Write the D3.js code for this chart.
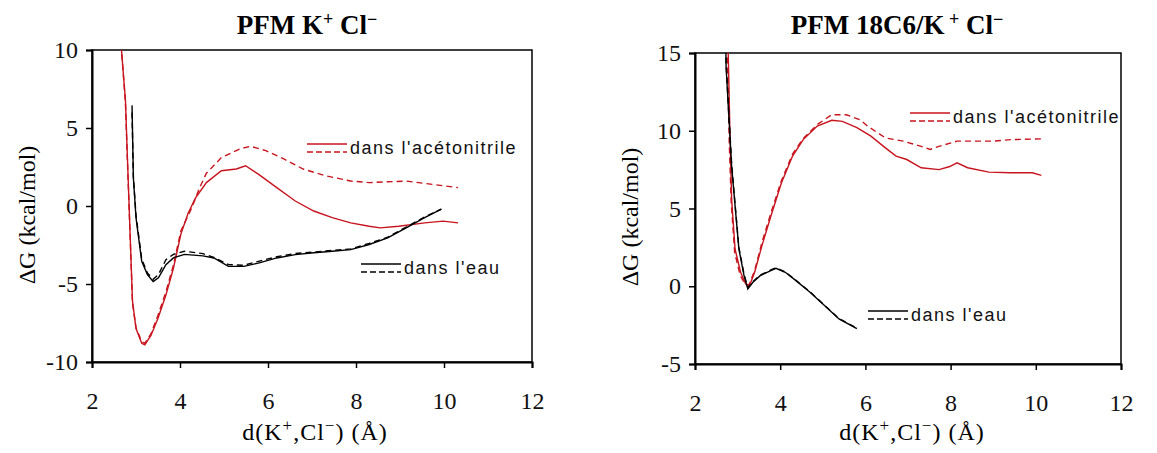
<!DOCTYPE html>
<html lang="fr">

<head>
  <meta charset="UTF-8">
  <title>PFM</title>
  <script src="https://d3js.org/d3.v7.min.js"></script>
  <style>
    body {
      margin: 0;
      background: #fff;
    }

    text {
      font-family: "Liberation Serif", "Times New Roman", serif;
    }

    .legend text {
      font-family: "Liberation Sans", Arial, sans-serif;
    }
  </style>
</head>

<body>
  <svg id="chart" width="1157" height="453"></svg>

  <script>
    // axes
    const xTicks = [2, 4, 6, 8, 10, 12]
    const kclYTicks = [-10, -5, 0, 5, 10]
    const crownYTicks = [-5, 0, 5, 10, 15]

    // PFM K+ Cl-  : [d, dG]
    const kclAcnSolid = [[2.62, 11], [2.67, 10], [2.76, 6.8], [2.8, 3.5], [2.84, 0.3], [2.88, -2.9], [2.92, -6.1], [3.0, -7.85],
      [3.13, -8.8], [3.2, -8.9], [3.34, -8.3], [3.5, -7.2], [3.68, -5.7], [3.85, -4.0], [4.02, -1.8], [4.18, -0.5],
      [4.35, 0.5], [4.6, 1.5], [4.94, 2.26], [5.28, 2.37], [5.49, 2.58], [5.78, 2.04], [6.2, 1.18], [6.62, 0.32],
      [7.04, -0.32], [7.46, -0.75], [7.88, -1.08], [8.3, -1.3], [8.55, -1.4], [8.97, -1.3], [9.56, -1.08],
      [9.98, -0.97], [10.32, -1.08]]
    const kclAcnDash = [[2.62, 11], [2.67, 10], [2.76, 6.6], [2.8, 3.3], [2.84, 0.1], [2.88, -3.0], [2.92, -6.2], [3.0, -7.8],
      [3.13, -8.7], [3.2, -8.8], [3.34, -8.2], [3.5, -7.0], [3.68, -5.5], [3.85, -3.8], [4.02, -1.6], [4.27, -0.1],
      [4.45, 1.2], [4.6, 2.1], [4.94, 3.1], [5.36, 3.66], [5.6, 3.83], [5.95, 3.55], [6.37, 3.0], [6.8, 2.37],
      [7.3, 1.94], [7.88, 1.6], [8.3, 1.5], [8.72, 1.55], [9.14, 1.6], [9.56, 1.45], [9.98, 1.3], [10.32, 1.18]]
    const kclWaterSolid = [[2.91, 6.45], [2.94, 1.83], [3.0, -0.75], [3.13, -3.55], [3.26, -4.4], [3.39, -4.84], [3.51, -4.6],
      [3.68, -3.76], [3.85, -3.33], [4.1, -3.1], [4.52, -3.2], [4.77, -3.33], [5.1, -3.87], [5.45, -3.87],
      [5.78, -3.66], [6.2, -3.33], [6.62, -3.12], [7.04, -3.0], [7.46, -2.9], [7.88, -2.8], [8.3, -2.47],
      [8.72, -2.04], [9.14, -1.4], [9.56, -0.75], [9.94, -0.2]]
    const kclWaterDash = [[2.91, 6.0], [2.94, 1.9], [3.0, -0.6], [3.13, -3.4], [3.26, -4.3], [3.39, -4.7], [3.51, -4.4],
      [3.68, -3.44], [3.85, -3.1], [4.1, -2.9], [4.52, -3.05], [4.77, -3.3], [5.1, -3.75], [5.45, -3.8],
      [5.78, -3.55], [6.2, -3.25], [6.62, -3.05], [7.04, -2.95], [7.46, -2.85], [7.88, -2.75], [8.3, -2.4],
      [8.72, -2.0], [9.14, -1.35], [9.56, -0.7], [9.94, -0.2]]

    // PFM 18C6/K+ Cl-
    const crownAcnSolid = [[2.77, 16], [2.78, 15], [2.82, 9.85], [2.86, 5.6], [2.94, 2.4], [3.07, 0.9], [3.19, 0.15], [3.28, 0.04],
      [3.4, 0.9], [3.57, 2.6], [3.78, 4.5], [4.03, 6.66], [4.29, 8.37], [4.54, 9.43], [4.87, 10.3], [5.21, 10.67],
      [5.46, 10.6], [5.8, 10.2], [6.13, 9.65], [6.47, 8.9], [6.72, 8.37], [6.97, 8.15], [7.31, 7.62], [7.73, 7.5],
      [7.98, 7.7], [8.15, 7.94], [8.4, 7.62], [8.9, 7.34], [9.41, 7.3], [9.92, 7.3], [10.13, 7.13]]
    const crownAcnDash = [[2.75, 16], [2.76, 15], [2.8, 9.6], [2.85, 5.4], [2.93, 2.2], [3.06, 0.7], [3.18, 0.1], [3.27, 0.1],
      [3.4, 1.0], [3.57, 2.8], [3.78, 4.7], [4.03, 6.8], [4.29, 8.5], [4.54, 9.5], [4.87, 10.4], [5.21, 11.03],
      [5.55, 11.03], [5.88, 10.7], [6.05, 10.3], [6.47, 9.54], [6.89, 9.33], [7.31, 9.0], [7.52, 8.8], [7.73, 9.0],
      [8.15, 9.33], [8.57, 9.33], [8.99, 9.33], [9.41, 9.43], [10.13, 9.48]]
    const crownWaterSolid = [[2.72, 16], [2.73, 14.1], [2.86, 7.7], [2.94, 5.2], [3.03, 2.4], [3.15, 0.7], [3.24, -0.17],
      [3.36, 0.26], [3.53, 0.68], [3.78, 1.0], [3.9, 1.15], [4.12, 0.9], [4.37, 0.36], [4.7, -0.38],
      [5.04, -1.24], [5.38, -2.1], [5.8, -2.73]]
    const crownWaterDash = [[2.72, 16], [2.73, 14.3], [2.86, 7.9], [2.94, 5.3], [3.03, 2.5], [3.15, 0.8], [3.24, -0.1],
      [3.36, 0.3], [3.53, 0.72], [3.78, 1.05], [3.9, 1.18], [4.12, 0.92], [4.37, 0.38], [4.7, -0.36],
      [5.04, -1.22], [5.38, -2.08], [5.8, -2.7]]

    const red = '#c8141e'
    const svg = d3.select('#chart')

    function drawPanel(opt) {
      const x = d3.scaleLinear().domain([2, 12]).range([opt.left, opt.right])
      const y = d3.scaleLinear().domain(opt.yDomain).range([opt.bottom, opt.top])
      const g = svg.append('g')

      g.append('clipPath').attr('id', opt.id)
        .append('rect')
        .attr('x', opt.left).attr('y', opt.top)
        .attr('width', opt.right - opt.left).attr('height', opt.bottom - opt.top)

      // cadre
      g.append('rect')
        .attr('x', opt.left).attr('y', opt.top)
        .attr('width', opt.right - opt.left).attr('height', opt.bottom - opt.top)
        .attr('fill', 'none').attr('stroke', '#000').attr('stroke-width', 1.5)

      const xAxis = g.append('g')
        .attr('transform', `translate(0,${opt.bottom})`)
        .call(d3.axisBottom(x).tickValues(xTicks).tickSize(6).tickPadding(24).tickFormat(d => String(d)))
      const yAxis = g.append('g')
        .attr('transform', `translate(${opt.left},0)`)
        .call(d3.axisLeft(y).tickValues(opt.yTicks).tickSize(6).tickPadding(8).tickFormat(d => String(d)))
      for (const a of [xAxis, yAxis]) {
        a.select('.domain').attr('stroke-width', 2)
        a.selectAll('.tick line').attr('stroke-width', 1.5)
        a.selectAll('text').attr('font-size', 24)
          .attr('font-family', '"Liberation Serif", serif').attr('fill', '#111')
      }

      const line = d3.line().x(d => x(d[0])).y(d => y(d[1]))
      const series = [
        [opt.acnDash, red, '6,4'],
        [opt.acnSolid, red, null],
        [opt.waterDash, '#000', '6,4'],
        [opt.waterSolid, '#000', null]
      ]
      series.forEach(s => {
        g.append('path')
          .datum(s[0])
          .attr('clip-path', `url(#${opt.id})`)
          .attr('d', line)
          .attr('fill', 'none')
          .attr('stroke', s[1])
          .attr('stroke-width', 1.4)
          .attr('stroke-dasharray', s[2])
      })

      // titres
      g.append('text')
        .attr('x', opt.titleX).attr('y', 34)
        .attr('text-anchor', 'middle')
        .attr('font-size', 27).attr('font-weight', 'bold')
        .html(opt.title)

      g.append('text')
        .attr('x', opt.xTitleX).attr('y', 440)
        .attr('text-anchor', 'middle')
        .attr('font-size', 24).attr('letter-spacing', 1)
        .html('d(K<tspan dy="-9" font-size="17">+</tspan><tspan dy="9">,Cl</tspan><tspan dy="-9" font-size="17">−</tspan><tspan dy="9">) (Å)</tspan>')

      g.append('text')
        .attr('transform', `translate(${opt.yTitleX},${opt.yTitleY}) rotate(-90)`)
        .attr('text-anchor', 'middle')
        .attr('font-size', 24)
        .text('ΔG (kcal/mol)')

      // légendes
      const leg = g.append('g').attr('class', 'legend')
      opt.legends.forEach(l => {
        leg.append('line').attr('x1', l.x).attr('x2', l.x + 40).attr('y1', l.y - 4).attr('y2', l.y - 4)
          .attr('stroke', l.color).attr('stroke-width', 1.5)
        leg.append('line').attr('x1', l.x).attr('x2', l.x + 40).attr('y1', l.y + 4).attr('y2', l.y + 4)
          .attr('stroke', l.color).attr('stroke-width', 1.5).attr('stroke-dasharray', '6,3')
        leg.append('text').attr('x', l.x + 43).attr('y', l.y + 6)
          .attr('font-size', 18).attr('letter-spacing', 1.5).attr('fill', '#111')
          .text(l.label)
      })
    }

    drawPanel({
      id: 'clipKcl',
      left: 92, right: 532, top: 50, bottom: 362,
      yDomain: [-10, 10], yTicks: kclYTicks,
      titleX: 307, xTitleX: 315, yTitleX: 35, yTitleY: 215,
      title: 'PFM K<tspan dy="-9" font-size="18">+</tspan><tspan dy="9"> Cl</tspan><tspan dy="-9" font-size="18">−</tspan>',
      acnSolid: kclAcnSolid, acnDash: kclAcnDash, waterSolid: kclWaterSolid, waterDash: kclWaterDash,
      legends: [
        { x: 307, y: 148, color: red, label: "dans l'acétonitrile" },
        { x: 361, y: 268, color: '#000', label: "dans l'eau" }
      ]
    })

    drawPanel({
      id: 'clipCrown',
      left: 695, right: 1121, top: 53, bottom: 364,
      yDomain: [-5, 15], yTicks: crownYTicks,
      titleX: 897, xTitleX: 912, yTitleX: 638, yTitleY: 217,
      title: 'PFM 18C6/K<tspan dy="-9" font-size="18"> +</tspan><tspan dy="9"> Cl</tspan><tspan dy="-9" font-size="18">−</tspan>',
      acnSolid: crownAcnSolid, acnDash: crownAcnDash, waterSolid: crownWaterSolid, waterDash: crownWaterDash,
      legends: [
        { x: 910, y: 117, color: red, label: "dans l'acétonitrile" },
        { x: 868, y: 315, color: '#000', label: "dans l'eau" }
      ]
    })
  </script>
</body>

</html>
